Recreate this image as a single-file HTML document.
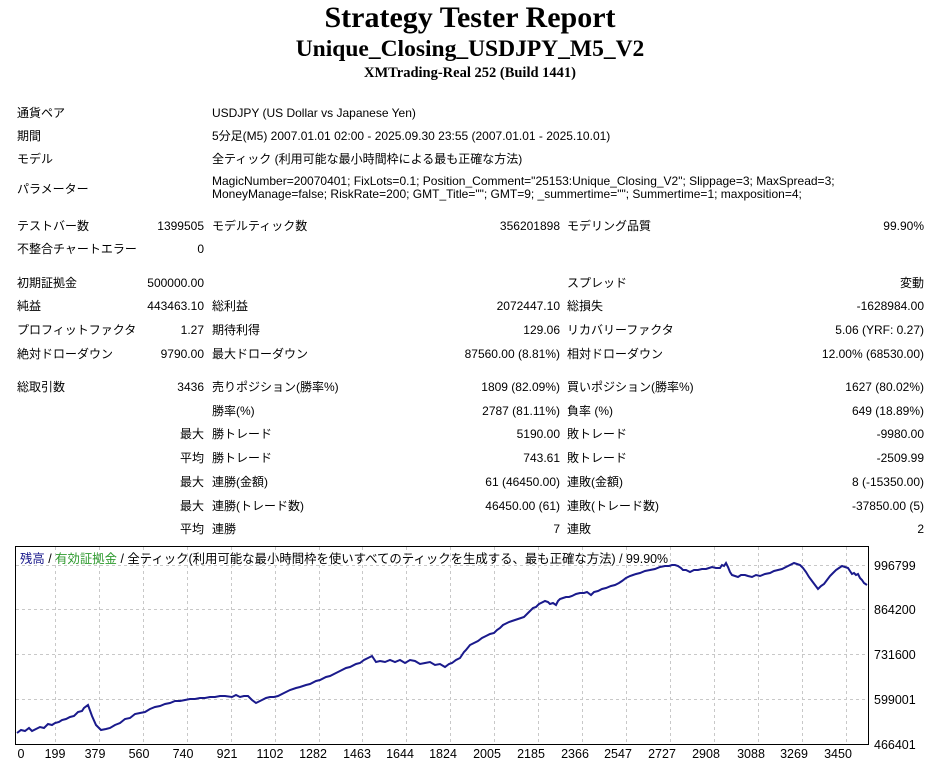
<!DOCTYPE html>
<html><head><meta charset="utf-8"><style>
body{margin:0;width:940px;height:763px;background:#fff;position:relative;overflow:hidden;font-family:"Liberation Sans","Noto Sans CJK JP",sans-serif;font-size:12px;color:#000}
.t{position:absolute;white-space:nowrap;line-height:14px}
.r{text-align:right}
.h{position:absolute;left:0;width:940px;text-align:center;font-family:"Liberation Serif",serif;font-weight:bold;white-space:nowrap}
</style></head><body>
<div class="h" style="top:1px;font-size:30px;line-height:34px">Strategy Tester Report</div>
<div class="h" style="top:36px;font-size:23.5px;line-height:27px">Unique_Closing_USDJPY_M5_V2</div>
<div class="h" style="top:65px;font-size:14.5px;line-height:17px">XMTrading-Real 252 (Build 1441)</div>

<div class="t" style="left:17px;top:106px">通貨ペア</div><div class="t" style="left:212px;top:106px">USDJPY (US Dollar vs Japanese Yen)</div>
<div class="t" style="left:17px;top:129px">期間</div><div class="t" style="left:212px;top:129px">5分足(M5) 2007.01.01 02:00 - 2025.09.30 23:55 (2007.01.01 - 2025.10.01)</div>
<div class="t" style="left:17px;top:152px">モデル</div><div class="t" style="left:212px;top:152px">全ティック (利用可能な最小時間枠による最も正確な方法)</div>
<div class="t" style="left:17px;top:182px">パラメーター</div><div class="t" style="left:212px;top:175px;line-height:13px">MagicNumber=20070401; FixLots=0.1; Position_Comment="25153:Unique_Closing_V2"; Slippage=3; MaxSpread=3;<br>MoneyManage=false; RiskRate=200; GMT_Title=""; GMT=9; _summertime=""; Summertime=1; maxposition=4;</div>

<div class="t" style="left:17px;top:219px">テストバー数</div><div class="t r" style="right:736px;top:219px">1399505</div><div class="t" style="left:212px;top:219px">モデルティック数</div><div class="t r" style="right:380px;top:219px">356201898</div><div class="t" style="left:567px;top:219px">モデリング品質</div><div class="t r" style="right:16px;top:219px">99.90%</div>
<div class="t" style="left:17px;top:242px">不整合チャートエラー</div><div class="t r" style="right:736px;top:242px">0</div>

<div class="t" style="left:17px;top:276px">初期証拠金</div><div class="t r" style="right:736px;top:276px">500000.00</div><div class="t" style="left:567px;top:276px">スプレッド</div><div class="t r" style="right:16px;top:276px">変動</div>
<div class="t" style="left:17px;top:299px">純益</div><div class="t r" style="right:736px;top:299px">443463.10</div><div class="t" style="left:212px;top:299px">総利益</div><div class="t r" style="right:380px;top:299px">2072447.10</div><div class="t" style="left:567px;top:299px">総損失</div><div class="t r" style="right:16px;top:299px">-1628984.00</div>
<div class="t" style="left:17px;top:323px">プロフィットファクタ</div><div class="t r" style="right:736px;top:323px">1.27</div><div class="t" style="left:212px;top:323px">期待利得</div><div class="t r" style="right:380px;top:323px">129.06</div><div class="t" style="left:567px;top:323px">リカバリーファクタ</div><div class="t r" style="right:16px;top:323px">5.06 (YRF: 0.27)</div>
<div class="t" style="left:17px;top:347px">絶対ドローダウン</div><div class="t r" style="right:736px;top:347px">9790.00</div><div class="t" style="left:212px;top:347px">最大ドローダウン</div><div class="t r" style="right:380px;top:347px">87560.00 (8.81%)</div><div class="t" style="left:567px;top:347px">相対ドローダウン</div><div class="t r" style="right:16px;top:347px">12.00% (68530.00)</div>

<div class="t" style="left:17px;top:380px">総取引数</div><div class="t r" style="right:736px;top:380px">3436</div><div class="t" style="left:212px;top:380px">売りポジション(勝率%)</div><div class="t r" style="right:380px;top:380px">1809 (82.09%)</div><div class="t" style="left:567px;top:380px">買いポジション(勝率%)</div><div class="t r" style="right:16px;top:380px">1627 (80.02%)</div>
<div class="t" style="left:212px;top:404px">勝率(%)</div><div class="t r" style="right:380px;top:404px">2787 (81.11%)</div><div class="t" style="left:567px;top:404px">負率 (%)</div><div class="t r" style="right:16px;top:404px">649 (18.89%)</div>
<div class="t r" style="right:736px;top:427px">最大</div><div class="t" style="left:212px;top:427px">勝トレード</div><div class="t r" style="right:380px;top:427px">5190.00</div><div class="t" style="left:567px;top:427px">敗トレード</div><div class="t r" style="right:16px;top:427px">-9980.00</div>
<div class="t r" style="right:736px;top:451px">平均</div><div class="t" style="left:212px;top:451px">勝トレード</div><div class="t r" style="right:380px;top:451px">743.61</div><div class="t" style="left:567px;top:451px">敗トレード</div><div class="t r" style="right:16px;top:451px">-2509.99</div>
<div class="t r" style="right:736px;top:475px">最大</div><div class="t" style="left:212px;top:475px">連勝(金額)</div><div class="t r" style="right:380px;top:475px">61 (46450.00)</div><div class="t" style="left:567px;top:475px">連敗(金額)</div><div class="t r" style="right:16px;top:475px">8 (-15350.00)</div>
<div class="t r" style="right:736px;top:499px">最大</div><div class="t" style="left:212px;top:499px">連勝(トレード数)</div><div class="t r" style="right:380px;top:499px">46450.00 (61)</div><div class="t" style="left:567px;top:499px">連敗(トレード数)</div><div class="t r" style="right:16px;top:499px">-37850.00 (5)</div>
<div class="t r" style="right:736px;top:522px">平均</div><div class="t" style="left:212px;top:522px">連勝</div><div class="t r" style="right:380px;top:522px">7</div><div class="t" style="left:567px;top:522px">連敗</div><div class="t r" style="right:16px;top:522px">2</div>

<svg style="position:absolute;left:0;top:540px" width="940" height="223" viewBox="0 540 940 223">
<rect x="15.5" y="546.5" width="853" height="198" fill="#fff" stroke="#000"/>
<g stroke="#c8c8c8" stroke-dasharray="3,3">
<line x1="16" x2="868" y1="609.5" y2="609.5"/><line x1="16" x2="868" y1="654.5" y2="654.5"/><line x1="16" x2="868" y1="699.5" y2="699.5"/><line x1="16" x2="868" y1="565.5" y2="565.5"/>
<line x1="55.5" x2="55.5" y1="547" y2="744"/><line x1="99.5" x2="99.5" y1="547" y2="744"/><line x1="143.5" x2="143.5" y1="547" y2="744"/><line x1="187.5" x2="187.5" y1="547" y2="744"/><line x1="231.5" x2="231.5" y1="547" y2="744"/><line x1="275.5" x2="275.5" y1="547" y2="744"/><line x1="319.5" x2="319.5" y1="547" y2="744"/><line x1="362.5" x2="362.5" y1="547" y2="744"/><line x1="406.5" x2="406.5" y1="547" y2="744"/><line x1="450.5" x2="450.5" y1="547" y2="744"/><line x1="494.5" x2="494.5" y1="547" y2="744"/><line x1="538.5" x2="538.5" y1="547" y2="744"/><line x1="582.5" x2="582.5" y1="547" y2="744"/><line x1="626.5" x2="626.5" y1="547" y2="744"/><line x1="670.5" x2="670.5" y1="547" y2="744"/><line x1="714.5" x2="714.5" y1="547" y2="744"/><line x1="758.5" x2="758.5" y1="547" y2="744"/><line x1="802.5" x2="802.5" y1="547" y2="744"/><line x1="846.5" x2="846.5" y1="547" y2="744"/>
</g>
<polyline fill="none" stroke="#1a1a8c" stroke-width="2" points="17,733 21,730 25,731 29,728 32,731 36,729 40,727 44,728 48,724 52,725 55,723 59,722 62,720 66,719 70,717 74,716 78,712 82,711 84,708 88,705 92,716 96,725 101,730 106,729 110,728 115,725 120,723 125,719 130,718 135,714 140,713 145,712 150,709 155,707 160,706 165,704 170,703 175,701 180,701 185,700 190,699 195,699 200,698 205,698 210,697 215,697 220,696 225,696 232,697 236,695 240,697 244,696 248,696 252,700 256,703 262,700 266,698 270,697 274,697 278,696 284,693 290,690 296,688 300,687 306,685 310,684 316,681 320,680 326,677 330,676 336,673 340,671 346,668 350,667 356,664 360,663 364,660 368,658 372,656 376,662 380,661 385,662 390,660 395,662 400,660 405,663 410,660 415,661 420,664 425,663 430,662 435,665 440,664 445,667 449,664 452,663 456,660 460,658 464,652 466,650 470,645 474,643 478,641 482,638 486,636 490,634 494,633 497,630 500,628 503,625 505,624 509,622 512,621 515,620 518,619 521,618 524,617 527,614 530,611 533,608 536,607 539,604 541,603 545,601 548,602 550,604 553,603 556,605 558,601 560,599 563,598 566,597 569,597 572,596 576,594 580,593 584,593 587,592 591,595 594,592 598,591 602,589 606,588 611,586 615,585 619,583 622,581 626,578 630,576 633,575 636,574 640,573 645,571 650,570 655,569 660,567 665,566 669,566 672,565 675,565 678,566 681,568 683,570 686,570 690,572 694,570 698,570 702,569 706,569 709,568 712,567 716,568 720,568 722,565 724,566 726,563 728,567 730,572 732,575 735,576 738,577 741,575 745,575 748,576 752,577 756,575 760,576 765,574 770,573 774,571 778,570 782,569 786,567 790,565 794,563 797,564 800,565 803,568 806,572 809,577 812,581 815,585 818,589 821,586 824,584 827,580 830,576 833,573 836,570 839,568 842,566 845,567 848,568 850,571 852,574 854,573 856,575 858,574 860,578 862,580 864,583 867,585"/>
<text x="20" y="563" font-size="12.5" font-family="Liberation Sans,Noto Sans CJK JP,sans-serif" fill="#000" textLength="648" lengthAdjust="spacingAndGlyphs"><tspan fill="#1a1a8c">残高</tspan> / <tspan fill="#2e9a2e">有効証拠金</tspan> / 全ティック(利用可能な最小時間枠を使いすべてのティックを生成する、最も正確な方法) / 99.90%</text>
<g font-size="12.5" font-family="Liberation Sans,sans-serif" fill="#000">
<text x="874" y="570">996799</text><text x="874" y="614">864200</text><text x="874" y="659">731600</text><text x="874" y="704">599001</text><text x="874" y="749">466401</text>
</g>
<g font-size="12.5" font-family="Liberation Sans,sans-serif" fill="#000" text-anchor="middle">
<text x="21" y="758">0</text><text x="55" y="758">199</text><text x="95" y="758">379</text><text x="139" y="758">560</text><text x="183" y="758">740</text><text x="227" y="758">921</text><text x="270" y="758">1102</text><text x="313" y="758">1282</text><text x="357" y="758">1463</text><text x="400" y="758">1644</text><text x="443" y="758">1824</text><text x="487" y="758">2005</text><text x="531" y="758">2185</text><text x="575" y="758">2366</text><text x="618" y="758">2547</text><text x="662" y="758">2727</text><text x="706" y="758">2908</text><text x="751" y="758">3088</text><text x="794" y="758">3269</text><text x="838" y="758">3450</text>
</g>
</svg>
</body></html>
